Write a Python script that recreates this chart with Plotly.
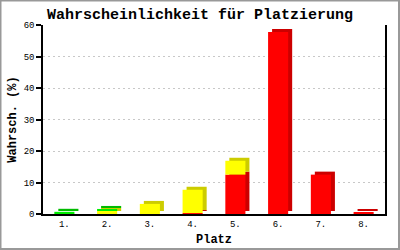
import plotly.graph_objects as go

categories = ["1.", "2.", "3.", "4.", "5.", "6.", "7.", "8."]
red_vals = [0, 0, 0, 0.3, 12.5, 57.8, 12.5, 0.4]
yellow_vals = [0, 1.0, 3.2, 7.4, 4.4, 0, 0, 0]
green_vals = [0.7, 0.6, 0, 0, 0, 0, 0, 0]
y_ticks = [0, 10, 20, 30, 40, 50, 60]

W, H = 400, 250
ML, MR, MT, MB = 43, 15, 25, 36
plot_w = W - ML - MR
plot_h = H - MT - MB
ymax = 60

bar_w = 0.47
dx = 4 / (plot_w / len(categories))   # depth offset in category units
dy = 3 / (plot_h / ymax)              # depth offset in value units

series = [
    (red_vals, "#FF0000", "#CC0000"),
    (yellow_vals, "#FFFF00", "#CCCC00"),
    (green_vals, "#00EE00", "#00BB00"),
]

xs = list(range(len(categories)))
bases = []
acc = [0.0] * len(categories)
for vals, _, _ in series:
    bases.append(list(acc))
    acc = [a + v for a, v in zip(acc, vals)]

fig = go.Figure()
# depth (shadow) faces
for (vals, c, dc), b in zip(series, bases):
    fig.add_trace(go.Bar(
        x=xs, y=vals, base=[bb + dy for bb in b],
        offset=-bar_w / 2 + dx, width=bar_w,
        marker=dict(color=dc, line=dict(width=0)),
        hoverinfo="skip", showlegend=False))
# front faces
for (vals, c, dc), b in zip(series, bases):
    fig.add_trace(go.Bar(
        x=xs, y=vals, base=b,
        offset=-bar_w / 2, width=bar_w,
        marker=dict(color=c, line=dict(width=0)),
        showlegend=False))

mono = "Liberation Mono"
fig.update_layout(
    width=W, height=H,
    margin=dict(l=ML, r=MR, t=MT, b=MB, autoexpand=False),
    barmode="overlay",
    paper_bgcolor="white", plot_bgcolor="white",
    font=dict(family=mono, color="black"),
    title=dict(text="<b>Wahrscheinlichkeit für Platzierung</b>",
               font=dict(family=mono, size=15, color="black"),
               x=0.5, xanchor="center", y=1 - 14 / H, yanchor="middle",
               xref="container", yref="container", automargin=False),
    xaxis=dict(
        tickmode="array", tickvals=xs, ticktext=categories,
        range=[-0.5, len(categories) - 0.5],
        showgrid=False, zeroline=False, automargin=False,
        showline=True, linecolor="black", linewidth=2,
        ticks="", tickfont=dict(family=mono, size=9),
        title=dict(text="<b>Platz</b>", font=dict(family=mono, size=12), standoff=6),
    ),
    yaxis=dict(
        range=[0, ymax], tickvals=y_ticks, automargin=False,
        showgrid=True, gridcolor="#c8c8c8", gridwidth=1, griddash="2px,3px",
        zeroline=False,
        showline=True, linecolor="black", linewidth=1.5, mirror=True,
        ticks="outside", ticklen=5, tickcolor="black", tickwidth=1.5,
        tickfont=dict(family=mono, size=9),
        title=dict(text="<b>Wahrsch. (%)</b>", font=dict(family=mono, size=12), standoff=4),
    ),
)

# outer frame around the whole image
fig.add_shape(type="rect", xref="paper", yref="paper",
              x0=-ML / plot_w + 0.5 / plot_w, x1=1 + MR / plot_w - 1 / plot_w,
              y0=-MB / plot_h + 1 / plot_h, y1=1 + MT / plot_h - 0.5 / plot_h,
              line=dict(color="#999999", width=2), fillcolor="rgba(0,0,0,0)",
              layer="above")

fig.write_html("out.html")
